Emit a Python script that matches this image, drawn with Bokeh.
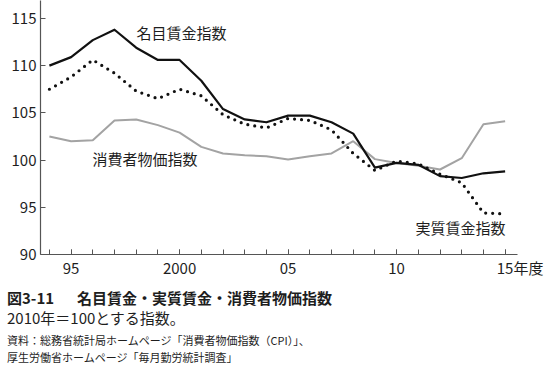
from bokeh.plotting import figure
from bokeh.layouts import column
from bokeh.models import FixedTicker, Label, Range1d, Div
from bokeh.embed import file_html
from bokeh.resources import INLINE

# ---- data ----
years = list(range(1994, 2016))
nominal_wage = [110.0, 110.9, 112.7, 113.8, 111.9, 110.6, 110.6, 108.4, 105.4, 104.3, 104.0,
                104.7, 104.7, 104.0, 102.8, 99.2, 99.7, 99.5, 98.3, 98.1, 98.6, 98.8]
real_wage = [107.5, 108.8, 110.6, 109.2, 107.3, 106.5, 107.5, 106.8, 104.8, 103.8, 103.4,
             104.4, 104.2, 103.2, 100.7, 98.9, 99.9, 99.6, 98.5, 97.6, 94.4, 94.3]
cpi = [102.5, 102.0, 102.1, 104.2, 104.3, 103.7, 102.9, 101.4, 100.7, 100.5, 100.4,
       100.05, 100.4, 100.7, 102.0, 100.1, 99.7, 99.4, 99.0, 100.2, 103.8, 104.1]
x_major = [1995, 2000, 2005, 2010, 2015]
x_major_labels = {1995: "95", 2000: "2000", 2005: "05", 2010: "10", 2015: "\u3000\u300015年度"}
y_ticks = [90, 95, 100, 105, 110, 115]
series_names = ["名目賃金指数", "消費者物価指数", "実質賃金指数"]
fig_no = "図3-11"
fig_title = "名目賃金・実質賃金・消費者物価指数"
note_lines = ["2010年＝100とする指数。",
              "資料：総務省統計局ホームページ「消費者物価指数（CPI）」、",
              "厚生労働省ホームページ「毎月勤労統計調査」"]

FONT = "Noto Sans CJK JP"
TXT = "#1e1e1e"
AX = "#555555"

# chart figure geometry (page pixels)
W = 550
H1 = 280
BL, BT, BR, BB = 40, 0, 33, 21
FW = W - BL - BR
FH = H1 - BT - BB
X0, X1 = 1993.59, 2015.57
Y0, Y1 = 90.0, 90.0 + FH / 9.63

p = figure(width=W, height=H1, output_backend="svg", toolbar_location=None,
           x_range=Range1d(X0, X1), y_range=Range1d(Y0, Y1),
           min_border_left=BL, min_border_right=BR, min_border_top=BT, min_border_bottom=BB)
p.outline_line_color = None
p.background_fill_color = "white"
p.border_fill_color = "white"
p.xgrid.visible = False
p.ygrid.visible = False


def dx(px):
    return X0 + (px - BL) * (X1 - X0) / FW


def dy(py):
    return Y0 + (BT + FH - py) * (Y1 - Y0) / FH


p.xaxis.ticker = FixedTicker(ticks=x_major, minor_ticks=years)
p.xaxis.major_label_overrides = x_major_labels
p.yaxis.ticker = FixedTicker(ticks=y_ticks, minor_ticks=[])
for ax in (p.xaxis[0], p.yaxis[0]):
    ax.axis_line_color = AX
    ax.axis_line_width = 1.2
    ax.major_tick_line_color = AX
    ax.minor_tick_line_color = AX
    ax.major_tick_in = 5
    ax.major_tick_out = 0
    ax.minor_tick_in = 5
    ax.minor_tick_out = 0
    ax.major_label_text_font = FONT
    ax.major_label_text_color = TXT
    ax.major_label_text_font_size = "15px"
p.yaxis.major_label_standoff = 4
p.xaxis.major_label_standoff = 2

p.line(years, cpi, line_color="#a3a3a3", line_width=2)
p.line(years, nominal_wage, line_color="#111111", line_width=2.2, line_join="round")
p.line(years, real_wage, line_color="#111111", line_width=3.2, line_dash="0 7",
       line_cap="round")


def lab(fig, text, x, y, size, bold=False):
    fig.add_layout(Label(x=x, y=y, text=text, text_font=FONT, text_font_size=size,
                         text_color=TXT, text_baseline="middle", text_align="left",
                         text_font_style="bold" if bold else "normal"))


lab(p, series_names[0], dx(136), dy(33), "15px")
lab(p, series_names[1], dx(92), dy(161), "15px")
lab(p, series_names[2], dx(415), dy(231), "15px")

# caption block (HTML text) under the chart
H2 = 372 - H1


def span(text, left, center_y, size, bold=False):
    lh = 20
    top = center_y - H1 - lh / 2
    weight = "700" if bold else "400"
    return (f'<div style="position:absolute;left:{left}px;top:{top}px;'
            f'font-family:\'{FONT}\';font-size:{size}px;font-weight:{weight};'
            f'line-height:{lh}px;color:{TXT};white-space:nowrap;">{text}</div>')


html = ('<div style="position:relative;width:550px;height:92px;margin:0;padding:0;">'
        + span(fig_no, 7, 298, 15, True)
        + span(fig_title, 77, 298, 15, True)
        + span(note_lines[0], 7, 318, 15)
        + span(note_lines[1], 7, 340, 11)
        + span(note_lines[2], 7, 357, 11)
        + '</div>')
c = Div(text=html, width=W, height=H2, margin=0, styles={"overflow": "visible"})

layout = column(p, c, spacing=0)
open("out.html", "w").write(file_html(layout, INLINE))
